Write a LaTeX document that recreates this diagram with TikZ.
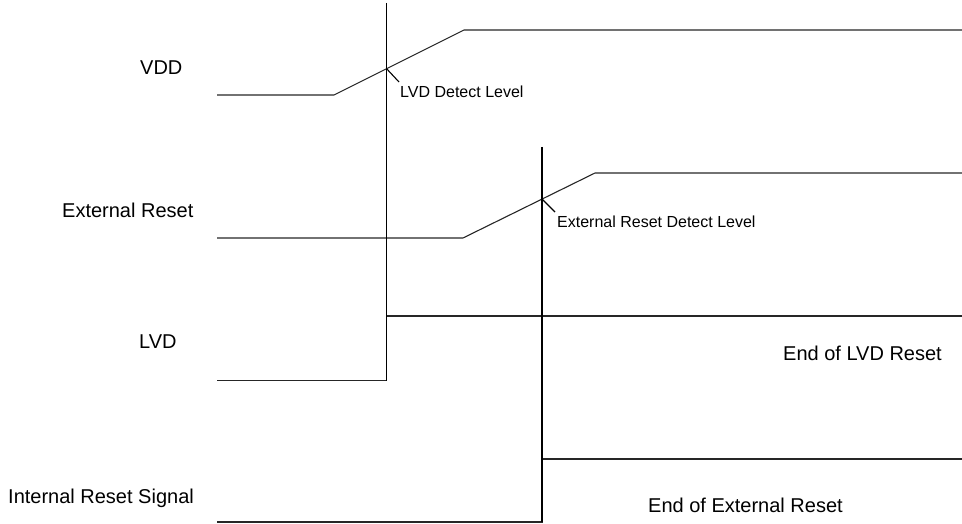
\documentclass[tikz,border=0pt]{standalone}
\usepackage{fontspec}
\setmainfont{Liberation Sans}
\begin{document}
\begin{tikzpicture}[x=1pt,y=-1pt,
  sig/.style={line width=1.1pt, black!85},
  marker/.style={line width=1.1pt, black},
  lbl/.style={inner sep=0pt, anchor=base west, font=\fontsize{20}{24}\selectfont},
  smalllbl/.style={inner sep=0pt, anchor=base west, font=\fontsize{16}{19}\selectfont}]
\useasboundingbox (0,0) rectangle (962,524);

% VDD waveform
\coordinate (v0) at (217,95);
\coordinate (v1) at (334,95);
\coordinate (v2) at (464,30);
\coordinate (v3) at (962,30);
\draw[sig] (v0) -- (v1) -- (v2) -- (v3);

% External reset waveform
\coordinate (e0) at (217,238);
\coordinate (e1) at (463,238);
\coordinate (e2) at (595,173);
\coordinate (e3) at (962,173);
\draw[sig] (e0) -- (e1) -- (e2) -- (e3);

% LVD waveform
\coordinate (l0) at (217,380.5);
\coordinate (l1) at (386.5,380.5);
\coordinate (l2) at (386.5,316);
\coordinate (l3) at (962,316);
\draw[sig] (l0) -- (l1) -- (l2) -- (l3);

% Internal reset waveform
\coordinate (i0) at (217,522);
\coordinate (i1) at (542,522);
\coordinate (i2) at (542,459);
\coordinate (i3) at (962,459);
\draw[sig] (i0) -- (i1) -- (i2) -- (i3);

% vertical marker lines
\coordinate (m1top) at (386.5,3);
\draw[marker] (m1top) -- (l1);
\coordinate (m2top) at (542,147);
\draw[marker] (m2top) -- (i1);

% detect level ticks
\coordinate (t1a) at (386.5,68.6);
\coordinate (t1b) at (399,82);
\draw[marker] (t1a) -- (t1b);
\coordinate (t2a) at (542,199);
\coordinate (t2b) at (555,212);
\draw[marker] (t2a) -- (t2b);

% labels
\node[lbl] (vdd) at (140,75) {VDD};
\node[lbl] (ext) at (62,218) {External Reset};
\node[lbl] (lvd) at (139,348) {LVD};
\node[lbl] (irs) at (8,503) {Internal Reset Signal};
\node[lbl, anchor=base east] (endlvd) at (942,360) {End of LVD Reset};
\node[lbl] (endext) at (648,512) {End of External Reset};
\node[smalllbl] (lvddet) at (400,98) {LVD Detect Level};
\node[smalllbl] (extdet) at (557,227) {External Reset Detect Level};
\end{tikzpicture}
\end{document}
